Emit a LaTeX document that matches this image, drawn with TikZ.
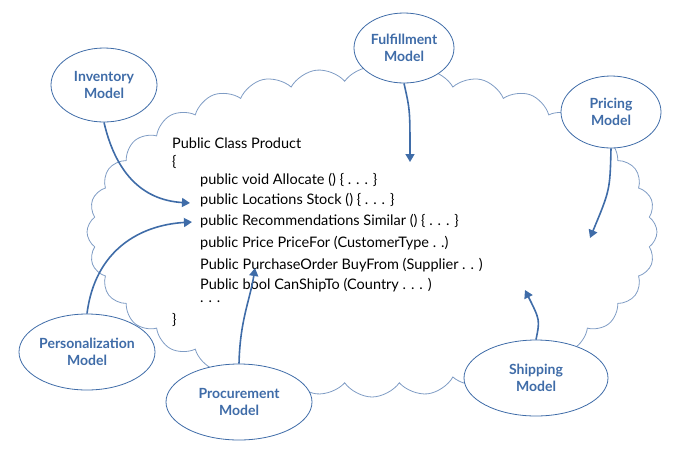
\documentclass[tikz,border=0pt]{standalone}
\usepackage{fontspec}
\setmainfont{Lato}
\usetikzlibrary{shapes.symbols,shapes.geometric,arrows.meta}
\definecolor{modelblue}{HTML}{3F6CA8}
\definecolor{cloudline}{HTML}{7F9CC4}
\tikzset{
  model/.style={draw=modelblue,ellipse,thick,fill=white,text=modelblue,align=center,inner sep=0pt,font=\bfseries\fontsize{14}{17}\selectfont},
  link/.style={-{Triangle[length=8pt,width=9pt]},modelblue,line width=1.6pt},
  code/.style={anchor=west,font=\fontsize{14.5}{17}\selectfont,inner sep=0pt}
}
\begin{document}
\begin{tikzpicture}[x=1pt,y=-1pt]
  \useasboundingbox (0,0) rectangle (683,459);
  \node[draw=cloudline,cloud,cloud puffs=32,cloud puff arc=110,aspect=1.7,
    minimum width=570,minimum height=330,thick] (cloud) at (372,232) {};
  \node[code] (l0) at (172,143) {Public Class Product};
  \node[code] (l1) at (172,162) {\{};
  \node[code] (l2) at (200,180) {public void Allocate () \{ . . . \}};
  \node[code] (l3) at (200,200) {public Locations Stock () \{ . . . \}};
  \node[code] (l4) at (200,221) {public Recommendations Similar () \{ . . . \}};
  \node[code] (l5) at (200,243) {public Price PriceFor (CustomerType . .)};
  \node[code] (l6) at (200,265) {Public PurchaseOrder BuyFrom (Supplier . . )};
  \node[code] (l7) at (200,285) {Public bool CanShipTo (Country . . . )};
  \node[code] (l8) at (200,302) {. . .};
  \node[code] (l9) at (172,320) {\}};
  \coordinate (tInv) at (190,203);
  \coordinate (tFul) at (410,162);
  \coordinate (tPri) at (590,238);
  \coordinate (tPer) at (192,222);
  \coordinate (tPro) at (255,268);
  \coordinate (tShi) at (525,290);
  \node[model,minimum width=106,minimum height=74] (inv) at (104,85) {Inventory\\Model};
  \node[model,minimum width=100,minimum height=70] (ful) at (404,48) {Fulfillment\\Model};
  \node[model,minimum width=100,minimum height=72] (pri) at (611,112) {Pricing\\Model};
  \node[model,minimum width=136,minimum height=76] (per) at (87,352) {Personalization\\Model};
  \node[model,minimum width=146,minimum height=76] (pro) at (239,402) {Procurement\\Model};
  \node[model,minimum width=144,minimum height=76] (shi) at (536,378) {Shipping\\Model};
  \draw[link] (inv.south) .. controls (115,170) and (140,200) .. (tInv);
  \draw[link] (ful.south) .. controls (410,110) .. (tFul);
  \draw[link] (pri.south) .. controls (610,190) .. (tPri);
  \draw[link] (per.north) .. controls (95,250) and (140,225) .. (tPer);
  \draw[link] (pro.north) .. controls (240,320) and (250,300) .. (tPro);
  \draw[link] (shi.north) .. controls (540,320) .. (tShi);
\end{tikzpicture}
\end{document}
